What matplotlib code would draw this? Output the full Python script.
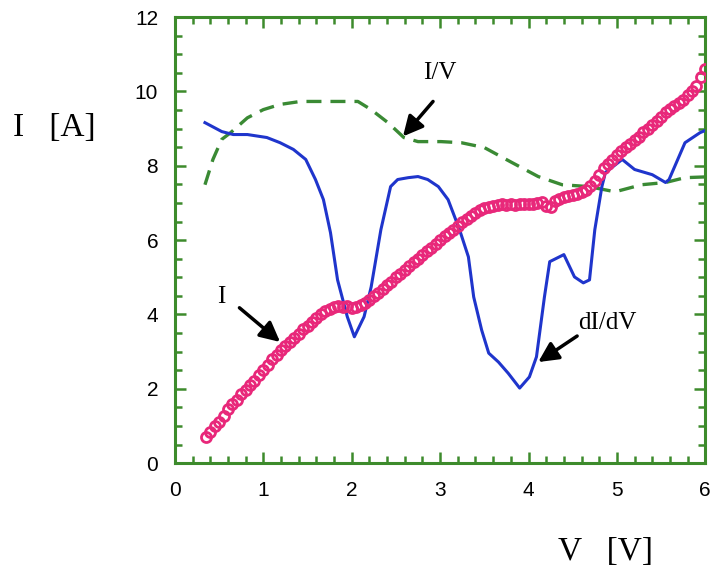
import matplotlib.pyplot as plt
from matplotlib.ticker import MultipleLocator

# I (circles)
i_v = [0.35, 0.40, 0.45, 0.50, 0.55, 0.60, 0.65, 0.70, 0.75, 0.80,
       0.85, 0.90, 0.95, 1.00, 1.05, 1.10, 1.15, 1.20, 1.25, 1.30,
       1.35, 1.40, 1.45, 1.50, 1.55, 1.60, 1.65, 1.70, 1.75, 1.80,
       1.85, 1.90, 1.95, 2.00, 2.05, 2.10, 2.15, 2.20, 2.25, 2.30,
       2.35, 2.40, 2.45, 2.50, 2.55, 2.60, 2.65, 2.70, 2.75, 2.80,
       2.85, 2.90, 2.95, 3.00, 3.05, 3.10, 3.15, 3.20, 3.25, 3.30,
       3.35, 3.40, 3.45, 3.50, 3.55, 3.60, 3.65, 3.70, 3.75, 3.80,
       3.85, 3.90, 3.95, 4.00, 4.05, 4.10, 4.15, 4.20, 4.25, 4.30,
       4.35, 4.40, 4.45, 4.50, 4.55, 4.60, 4.65, 4.70, 4.75, 4.80,
       4.85, 4.90, 4.95, 5.00, 5.05, 5.10, 5.15, 5.20, 5.25, 5.30,
       5.35, 5.40, 5.45, 5.50, 5.55, 5.60, 5.65, 5.70, 5.75, 5.80,
       5.85, 5.90, 5.95, 6.00]
i_a = [0.70, 0.85, 1.00, 1.12, 1.28, 1.45, 1.58, 1.70, 1.85, 1.98,
       2.10, 2.22, 2.36, 2.50, 2.65, 2.80, 2.92, 3.05, 3.15, 3.27,
       3.38, 3.48, 3.60, 3.70, 3.80, 3.90, 4.00, 4.08, 4.15, 4.20,
       4.22, 4.20, 4.22, 4.18, 4.20, 4.25, 4.32, 4.40, 4.50, 4.58,
       4.68, 4.78, 4.88, 5.00, 5.10, 5.20, 5.30, 5.40, 5.50, 5.60,
       5.70, 5.80, 5.90, 6.00, 6.10, 6.18, 6.28, 6.38, 6.48, 6.56,
       6.65, 6.72, 6.80, 6.86, 6.90, 6.92, 6.95, 6.96, 6.95, 6.96,
       6.95, 6.97, 6.96, 6.97, 6.98, 7.00, 7.02, 6.92, 6.88, 7.05,
       7.10, 7.15, 7.18, 7.22, 7.25, 7.30, 7.35, 7.45, 7.60, 7.75,
       7.95, 8.05, 8.15, 8.28, 8.40, 8.50, 8.58, 8.68, 8.78, 8.90,
       9.00, 9.10, 9.20, 9.32, 9.45, 9.52, 9.60, 9.68, 9.78, 9.90,
       10.02, 10.15, 10.40, 10.60]

# dI/dV (blue line)
didv_v = [0.34, 0.53, 0.66, 0.82, 1.04, 1.19, 1.34, 1.48, 1.59, 1.68,
          1.76, 1.84, 1.95, 2.03, 2.14, 2.22, 2.33, 2.44, 2.52, 2.64,
          2.75, 2.86, 2.98, 3.09, 3.22, 3.32, 3.38, 3.47, 3.55, 3.66,
          3.77, 3.90, 4.01, 4.09, 4.18, 4.24, 4.40, 4.52, 4.62, 4.69,
          4.75, 4.83, 4.87, 5.06, 5.20, 5.40, 5.55, 5.59, 5.77, 5.94,
          6.00]
didv_a = [9.16, 8.92, 8.84, 8.84, 8.76, 8.62, 8.44, 8.17, 7.63, 7.09,
          6.20, 4.93, 3.94, 3.40, 3.94, 4.74, 6.28, 7.44, 7.63, 7.68,
          7.71, 7.63, 7.44, 7.09, 6.28, 5.55, 4.47, 3.58, 2.96, 2.72,
          2.42, 2.02, 2.32, 2.86, 4.47, 5.42, 5.61, 5.01, 4.85, 4.93,
          6.28, 7.44, 7.82, 8.17, 7.90, 7.76, 7.55, 7.63, 8.62, 8.89,
          8.95]

# I/V (green dashed)
iv_v = [0.34, 0.43, 0.53, 0.63, 0.82, 1.00, 1.19, 1.42, 2.07, 2.22,
        2.41, 2.59, 2.75, 3.01, 3.24, 3.50, 3.81, 4.11, 4.38, 4.68,
        4.98, 5.28, 5.55, 5.77, 6.00]
iv_a = [7.49, 8.17, 8.71, 8.89, 9.29, 9.51, 9.65, 9.73, 9.73, 9.51,
        9.16, 8.76, 8.65, 8.65, 8.62, 8.49, 8.09, 7.71, 7.49, 7.44,
        7.30, 7.49, 7.55, 7.68, 7.70]

FRAME = "#3d8b2c"


def main():
    fig = plt.figure(figsize=(7.11, 5.69), dpi=100)
    ax = fig.add_axes([0.246, 0.186, 0.746, 0.784])

    ax.plot(iv_v, iv_a, color="#3a8a34", lw=2.4, ls=(0, (4.5, 2.7)), zorder=2)
    ax.plot(didv_v, didv_a, color="#1f35cc", lw=2.2, zorder=3)
    ax.plot(i_v, i_a, ls="none", marker="o", ms=7.2, mfc="none",
            mec="#e8287a", mew=2.0, zorder=4)

    ax.set_xlim(0, 6)
    ax.set_ylim(0, 12)
    ax.xaxis.set_major_locator(MultipleLocator(1))
    ax.xaxis.set_minor_locator(MultipleLocator(0.2))
    ax.yaxis.set_major_locator(MultipleLocator(2))
    ax.yaxis.set_minor_locator(MultipleLocator(0.5))

    for s in ax.spines.values():
        s.set_color(FRAME)
        s.set_linewidth(2.2)
    ax.tick_params(which="both", direction="in", top=True, right=True,
                   color=FRAME, width=1.8, labelsize=15,
                   labelfontfamily="Liberation Sans")
    ax.tick_params(which="major", length=8)
    ax.tick_params(which="minor", length=5)
    ax.tick_params(axis="x", which="major", pad=13)
    ax.tick_params(axis="y", which="major", pad=12)

    serif = "Liberation Serif"
    akw = dict(arrowstyle="-|>,head_length=1.2,head_width=0.6",
               color="black", lw=2.5, shrinkA=0, shrinkB=0)
    ax.annotate("", xy=(2.58, 8.79), xytext=(2.92, 9.73), arrowprops=akw)
    ax.annotate("", xy=(1.19, 3.26), xytext=(0.73, 4.18), arrowprops=akw)
    ax.annotate("", xy=(4.11, 2.72), xytext=(4.55, 3.42), arrowprops=akw)
    ax.text(3.0, 10.5, "I/V", family=serif, fontsize=18, ha="center", va="center")
    ax.text(0.53, 4.47, "I", family=serif, fontsize=18, ha="center", va="center")
    ax.text(4.89, 3.77, "dI/dV", family=serif, fontsize=18, ha="center", va="center")

    fig.text(0.018, 0.775, "I   [A]", family=serif, fontsize=24, ha="left", va="center")
    fig.text(0.785, 0.03, "V   [V]", family=serif, fontsize=24, ha="left", va="center")

    fig.savefig("out.png", dpi=100)
    plt.close(fig)


if __name__ == "__main__":
    main()
